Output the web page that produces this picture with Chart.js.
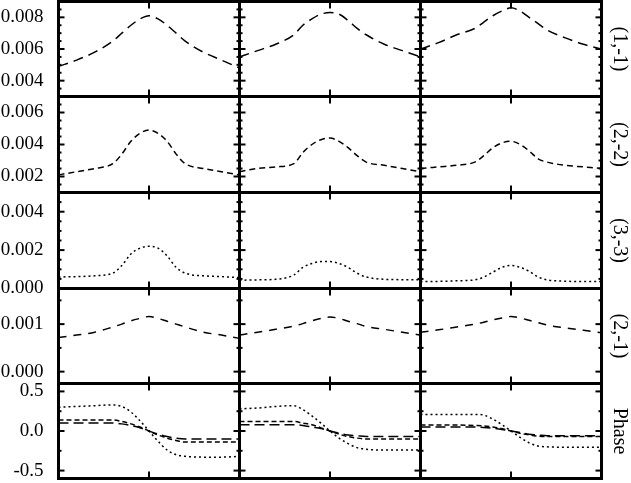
<!DOCTYPE html>
<html>
<head>
<meta charset="utf-8">
<script src="https://cdn.jsdelivr.net/npm/chart.js@4/dist/chart.umd.min.js"></script>
<style>
  html, body { margin: 0; background: #fff; }
  #fig { position: relative; width: 631px; height: 483px; overflow: hidden; }
  #fig canvas { position: absolute; }
</style>
</head>
<body>
<div id="fig"></div>
<script>
'use strict';

// phase samples along each panel (0..1, centre tick at 0.5)
const xPhase = [0, 0.1, 0.2, 0.3, 0.35, 0.4, 0.45, 0.5, 0.55, 0.6, 0.65, 0.7, 0.8, 0.9, 1];

const rowNames = ['(1,-1)', '(2,-2)', '(3,-3)', '(2,-1)', 'Phase'];

// amplitudes, one array per column
const amp11 = [
  [0.0049, 0.0053, 0.0058, 0.0065, 0.0070, 0.0075, 0.0079, 0.0081, 0.0079, 0.0075, 0.0070, 0.0065, 0.0058, 0.0053, 0.0048],
  [0.0055, 0.0059, 0.0063, 0.0069, 0.0075, 0.0079, 0.0082, 0.0083, 0.0082, 0.0078, 0.0073, 0.0069, 0.0063, 0.0059, 0.0055],
  [0.0060, 0.0064, 0.0069, 0.0073, 0.0077, 0.0081, 0.0084, 0.0086, 0.0084, 0.0080, 0.0076, 0.0072, 0.0067, 0.0063, 0.0060],
];
const amp22 = [
  [0.0021, 0.0023, 0.0025, 0.0028, 0.0034, 0.0042, 0.0047, 0.0049, 0.0047, 0.0042, 0.0034, 0.0028, 0.0025, 0.0023, 0.0021],
  [0.0023, 0.0025, 0.0026, 0.0028, 0.0035, 0.0040, 0.0043, 0.0044, 0.0042, 0.0038, 0.0033, 0.0029, 0.0027, 0.0025, 0.0023],
  [0.0025, 0.0026, 0.0027, 0.0029, 0.0033, 0.0038, 0.0041, 0.0042, 0.0040, 0.0036, 0.0031, 0.0029, 0.0027, 0.0026, 0.0025],
];
const amp33 = [
  [0.00060, 0.00062, 0.00066, 0.00080, 0.00120, 0.00180, 0.00210, 0.00220, 0.00210, 0.00170, 0.00110, 0.00080, 0.00066, 0.00062, 0.00057],
  [0.00043, 0.00045, 0.00048, 0.00070, 0.00110, 0.00130, 0.00140, 0.00140, 0.00130, 0.00110, 0.00080, 0.00060, 0.00048, 0.00046, 0.00045],
  [0.00036, 0.00037, 0.00040, 0.00045, 0.00060, 0.00085, 0.00110, 0.00120, 0.00110, 0.00090, 0.00060, 0.00045, 0.00038, 0.00036, 0.00036],
];
const amp21 = [
  [0.00072, 0.00077, 0.00083, 0.00094, 0.00100, 0.00107, 0.00112, 0.00116, 0.00112, 0.00106, 0.00100, 0.00094, 0.00083, 0.00077, 0.00070],
  [0.00077, 0.00083, 0.00089, 0.00096, 0.00101, 0.00107, 0.00112, 0.00115, 0.00112, 0.00106, 0.00101, 0.00095, 0.00089, 0.00083, 0.00077],
  [0.00083, 0.00088, 0.00094, 0.00100, 0.00104, 0.00109, 0.00113, 0.00116, 0.00113, 0.00108, 0.00103, 0.00098, 0.00092, 0.00087, 0.00082],
];

// phases
const phaseLong = [
  [0.10, 0.10, 0.10, 0.10, 0.09, 0.07, 0.04, 0.0, -0.04, -0.07, -0.09, -0.10, -0.10, -0.10, -0.10],
  [0.08, 0.08, 0.08, 0.08, 0.07, 0.05, 0.03, 0.0, -0.03, -0.05, -0.06, -0.07, -0.07, -0.07, -0.07],
  [0.05, 0.05, 0.05, 0.05, 0.045, 0.035, 0.02, 0.0, -0.02, -0.04, -0.05, -0.06, -0.06, -0.06, -0.06],
];
const phaseMid = [
  [0.14, 0.14, 0.14, 0.14, 0.12, 0.09, 0.05, 0.0, -0.05, -0.09, -0.12, -0.14, -0.14, -0.14, -0.14],
  [0.12, 0.12, 0.12, 0.12, 0.10, 0.08, 0.04, 0.0, -0.04, -0.07, -0.09, -0.10, -0.10, -0.10, -0.10],
  [0.075, 0.075, 0.075, 0.07, 0.065, 0.05, 0.03, 0.0, -0.03, -0.05, -0.065, -0.07, -0.07, -0.07, -0.07],
];
const phaseDot = [
  [0.30, 0.31, 0.32, 0.33, 0.31, 0.24, 0.13, 0.0, -0.13, -0.24, -0.30, -0.32, -0.33, -0.33, -0.32],
  [0.28, 0.29, 0.31, 0.32, 0.27, 0.19, 0.10, 0.0, -0.09, -0.16, -0.21, -0.23, -0.24, -0.24, -0.24],
  [0.21, 0.21, 0.21, 0.21, 0.20, 0.15, 0.08, 0.0, -0.08, -0.15, -0.19, -0.20, -0.205, -0.205, -0.205],
];

// y axes per row
const yTicksMajor = [
  [0.004, 0.006, 0.008],
  [0.002, 0.004, 0.006],
  [0.000, 0.002, 0.004],
  [0.000, 0.001],
  [-0.5, 0.0, 0.5],
];
const yLimits = [[0.003, 0.009], [0.001, 0.007], [0, 0.005], [-0.00025, 0.00175], [-0.6, 0.6]];
const yMinorStep = [0.0005, 0.0005, 0.0005, 0.0005, 0.25];
const yDigits = [3, 3, 3, 3, 1];
const xTicksMajor = [0.5];

// page layout of the panel frames
const colEdges = [58.5, 239.5, 420.5, 601.5];
const rowEdges = [1.5, 96.5, 192.5, 288.5, 383.5, 478.5];
const W = 631, H = 483, M = 14;
const labelX = 619; // centre of the rotated row labels
const serif = "'Liberation Serif', 'Times New Roman', serif";

const rowSeries = [
  [{ data: amp11, dash: [10, 6] }],
  [{ data: amp22, dash: [6, 4] }],
  [{ data: amp33, dash: [2, 3] }],
  [{ data: amp21, dash: [8, 7] }],
  [
    { data: phaseLong, dash: [10, 5] },
    { data: phaseMid, dash: [5, 3] },
    { data: phaseDot, dash: [2, 3] },
  ],
];

// thick frame with inward ticks on every side, plus the row label
const frameTicks = {
  id: 'frameTicks',
  afterDatasetsDraw(chart, args, opts) {
    const { ctx, chartArea: a } = chart;
    const x = chart.scales.x, y = chart.scales.y;
    const seg = (x0, y0, x1, y1) => {
      ctx.beginPath();
      ctx.moveTo(x0, y0);
      ctx.lineTo(x1, y1);
      ctx.stroke();
    };
    ctx.save();
    ctx.strokeStyle = '#000';
    ctx.lineWidth = 2;
    const step = opts.minor;
    const k0 = Math.ceil(y.min / step - 1e-6), k1 = Math.floor(y.max / step + 1e-6);
    for (let k = k0; k <= k1; k++) {
      const v = k * step;
      const py = y.getPixelForValue(v);
      const isMajor = opts.major.some(m => Math.abs(m - v) < step / 10);
      const len = isMajor ? 6 : 3;
      seg(a.left, py, a.left + len, py);
      seg(a.right, py, a.right - len, py);
    }
    opts.xMajor.forEach(v => {
      const px = x.getPixelForValue(v);
      seg(px, a.top, px, a.top + 7);
      seg(px, a.bottom, px, a.bottom - 7);
    });
    ctx.lineWidth = 3;
    ctx.strokeRect(a.left, a.top, a.right - a.left, a.bottom - a.top);

    if (opts.label) {
      ctx.translate(opts.labelX, (a.top + a.bottom) / 2);
      ctx.rotate(Math.PI / 2);
      ctx.fillStyle = '#000';
      ctx.font = '20px ' + serif;
      ctx.textAlign = 'center';
      ctx.textBaseline = 'middle';
      ctx.fillText(opts.label, 0, 0);
    }
    ctx.restore();
  },
};

const fig = document.getElementById('fig');

for (let r = 0; r < 5; r++) {
  for (let c = 0; c < 3; c++) {
    const left = c === 0 ? 0 : Math.floor(colEdges[c]) - M;
    const right = c === 2 ? W : Math.ceil(colEdges[c + 1]) + M;
    const top = Math.max(0, Math.floor(rowEdges[r]) - M);
    const bottom = Math.min(H, Math.ceil(rowEdges[r + 1]) + M);

    const canvas = document.createElement('canvas');
    canvas.width = right - left;
    canvas.height = bottom - top;
    canvas.style.left = left + 'px';
    canvas.style.top = top + 'px';
    canvas.style.width = (right - left) + 'px';
    canvas.style.height = (bottom - top) + 'px';
    fig.appendChild(canvas);

    const datasets = rowSeries[r].map(s => ({
      data: xPhase.map((xv, i) => ({ x: xv, y: s.data[c][i] })),
      borderColor: '#000',
      borderWidth: 1.5,
      borderDash: s.dash,
      pointRadius: 0,
      fill: false,
      cubicInterpolationMode: 'monotone',
    }));

    new Chart(canvas.getContext('2d'), {
      type: 'line',
      data: { datasets },
      options: {
        responsive: false,
        animation: false,
        events: [],
        layout: {
          padding: {
            left: c === 0 ? 0 : colEdges[c] - left,
            right: right - colEdges[c + 1],
            top: rowEdges[r] - top,
            bottom: bottom - rowEdges[r + 1],
          },
        },
        plugins: {
          legend: { display: false },
          tooltip: { enabled: false },
          frameTicks: {
            major: yTicksMajor[r],
            minor: yMinorStep[r],
            xMajor: xTicksMajor,
            label: c === 2 ? rowNames[r] : '',
            labelX: labelX - left,
          },
        },
        scales: {
          x: { type: 'linear', min: 0, max: 1, display: false },
          y: {
            type: 'linear',
            position: 'left',
            min: yLimits[r][0],
            max: yLimits[r][1],
            display: c === 0,
            grid: { display: false, drawTicks: false },
            border: { display: false },
            ticks: {
              padding: 15,
              color: '#000',
              autoSkip: false,
              font: { family: serif, size: 19 },
              callback: v => Number(v).toFixed(yDigits[r]),
            },
            afterBuildTicks: s => { s.ticks = yTicksMajor[r].map(v => ({ value: v })); },
            afterFit: s => {
              s.width = colEdges[0] - left;
              s.paddingTop = 0;
              s.paddingBottom = 0;
            },
          },
        },
      },
      plugins: [frameTicks],
    });
  }
}
</script>
</body>
</html>
